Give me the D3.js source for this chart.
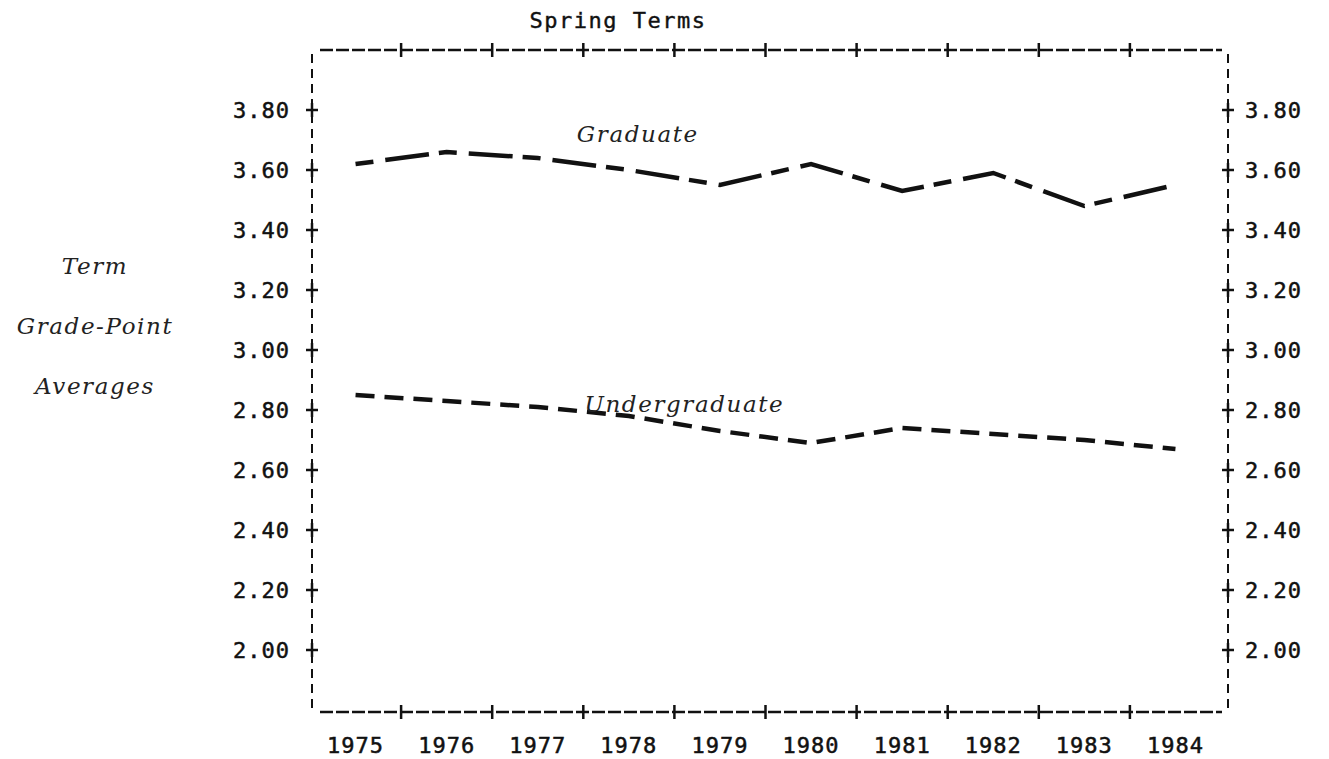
<!DOCTYPE html>
<html>
<head>
<meta charset="utf-8">
<script src="https://cdn.jsdelivr.net/npm/d3@7"></script>
<style>
  body { margin: 0; background: #fff; }
  .num { font-family: "DejaVu Sans Mono", monospace; font-size: 22px; letter-spacing: 1px; fill: #111; stroke: #111; stroke-width: 0.5px; }
  .ttl { font-family: "DejaVu Sans Mono", monospace; font-size: 22px; letter-spacing: 1.5px; fill: #111; stroke: #111; stroke-width: 0.4px; }
  .ital { font-family: "DejaVu Serif", serif; font-style: italic; font-size: 23px; letter-spacing: 1.6px; fill: #222; }
</style>
</head>
<body>
<div id="chart"></div>
<script>
var years = [1975, 1976, 1977, 1978, 1979, 1980, 1981, 1982, 1983, 1984];
var graduate = [3.62, 3.66, 3.64, 3.60, 3.55, 3.62, 3.53, 3.59, 3.48, 3.55];
var undergraduate = [2.85, 2.83, 2.81, 2.78, 2.73, 2.69, 2.74, 2.72, 2.70, 2.67];
var yTicks = [2.00, 2.20, 2.40, 2.60, 2.80, 3.00, 3.20, 3.40, 3.60, 3.80];
var title = "Spring Terms";
var yTitle = ["Term", "Grade-Point", "Averages"];

var W = 1329, H = 759;
var frame = {left: 312, right: 1228, top: 50, bottom: 712};

var svg = d3.select("#chart").append("svg")
  .attr("width", W)
  .attr("height", H);

var x = d3.scaleBand()
  .domain(years)
  .range([310, 1221]);
var y = d3.scaleLinear()
  .domain([1.8, 4.0])
  .range([710, 50]);

// frame : dashed lines
var ink = "#111";
[frame.top, frame.bottom].forEach(function(fy){
  svg.append("line")
    .attr("x1", frame.left + 8).attr("x2", frame.right - 6)
    .attr("y1", fy).attr("y2", fy)
    .attr("stroke", ink).attr("stroke-width", 2.5)
    .attr("stroke-dasharray", "13,3");
});
[frame.left, frame.right].forEach(function(fx){
  svg.append("line")
    .attr("x1", fx).attr("x2", fx)
    .attr("y1", frame.top + 4).attr("y2", frame.bottom - 4)
    .attr("stroke", ink).attr("stroke-width", 2)
    .attr("stroke-dasharray", "9,6");
});

// "+" ticks on top and bottom between years
var xb = years.slice(1).map(function(d){ return x(d); });
[frame.top, frame.bottom].forEach(function(fy){
  svg.selectAll(null)
    .data(xb)
    .enter()
    .append("line")
    .attr("x1", function(d){ return d; })
    .attr("x2", function(d){ return d; })
    .attr("y1", fy - 7).attr("y2", fy + 7)
    .attr("stroke", ink).attr("stroke-width", 2.5);
});

// "+" ticks on left / right
[frame.left, frame.right].forEach(function(fx){
  svg.selectAll(null)
    .data(yTicks)
    .enter()
    .append("line")
    .attr("x1", fx - 6).attr("x2", fx + 6)
    .attr("y1", function(d){ return y(d); })
    .attr("y2", function(d){ return y(d); })
    .attr("stroke", ink).attr("stroke-width", 2.5);
  svg.selectAll(null)
    .data(yTicks)
    .enter()
    .append("line")
    .attr("x1", fx).attr("x2", fx)
    .attr("y1", function(d){ return y(d) - 7; })
    .attr("y2", function(d){ return y(d) + 7; })
    .attr("stroke", ink).attr("stroke-width", 2.5);
});

// tick labels
svg.selectAll(null)
  .data(yTicks)
  .enter()
  .append("text")
  .attr("class", "num")
  .attr("x", frame.left - 22)
  .attr("y", function(d){ return y(d); })
  .attr("dy", "0.36em")
  .attr("text-anchor", "end")
  .text(function(d){ return d.toFixed(2); });
svg.selectAll(null)
  .data(yTicks)
  .enter()
  .append("text")
  .attr("class", "num")
  .attr("x", frame.right + 17)
  .attr("y", function(d){ return y(d); })
  .attr("dy", "0.36em")
  .text(function(d){ return d.toFixed(2); });
svg.selectAll(null)
  .data(years)
  .enter()
  .append("text")
  .attr("class", "num")
  .attr("x", function(d){ return x(d) + x.bandwidth() / 2; })
  .attr("y", frame.bottom + 41)
  .attr("text-anchor", "middle")
  .text(function(d){ return d; });

// title
svg.append("text")
  .attr("class", "ttl")
  .attr("x", 618)
  .attr("y", 28)
  .attr("text-anchor", "middle")
  .text(title);

// y title
svg.selectAll(null)
  .data(yTitle)
  .enter()
  .append("text")
  .attr("class", "ital")
  .attr("x", 95)
  .attr("y", function(d, i){ return y(3.28) + i * 60; })
  .attr("dy", "0.35em")
  .attr("text-anchor", "middle")
  .text(function(d){ return d; });

// series
var line = d3.line()
  .x(function(d, i){ return x(years[i]) + x.bandwidth() / 2; })
  .y(function(d){ return y(d); });

svg.append("path")
  .datum(graduate)
  .attr("fill", "none")
  .attr("stroke", ink)
  .attr("stroke-width", 4.5)
  .attr("stroke-dasharray", "18,12,44,10")
  .attr("d", line);

svg.append("path")
  .datum(undergraduate)
  .attr("fill", "none")
  .attr("stroke", ink)
  .attr("stroke-width", 4.5)
  .attr("stroke-dasharray", "19,10")
  .attr("d", line);

// series labels
svg.append("text")
  .attr("class", "ital")
  .attr("x", x(1978) + x.bandwidth() / 2 + 9)
  .attr("y", y(3.72))
  .attr("dy", "0.35em")
  .attr("text-anchor", "middle")
  .text("Graduate");
svg.append("text")
  .attr("class", "ital")
  .attr("x", x(1979) + 10)
  .attr("y", y(2.82))
  .attr("dy", "0.35em")
  .attr("text-anchor", "middle")
  .text("Undergraduate");
</script>
</body>
</html>
